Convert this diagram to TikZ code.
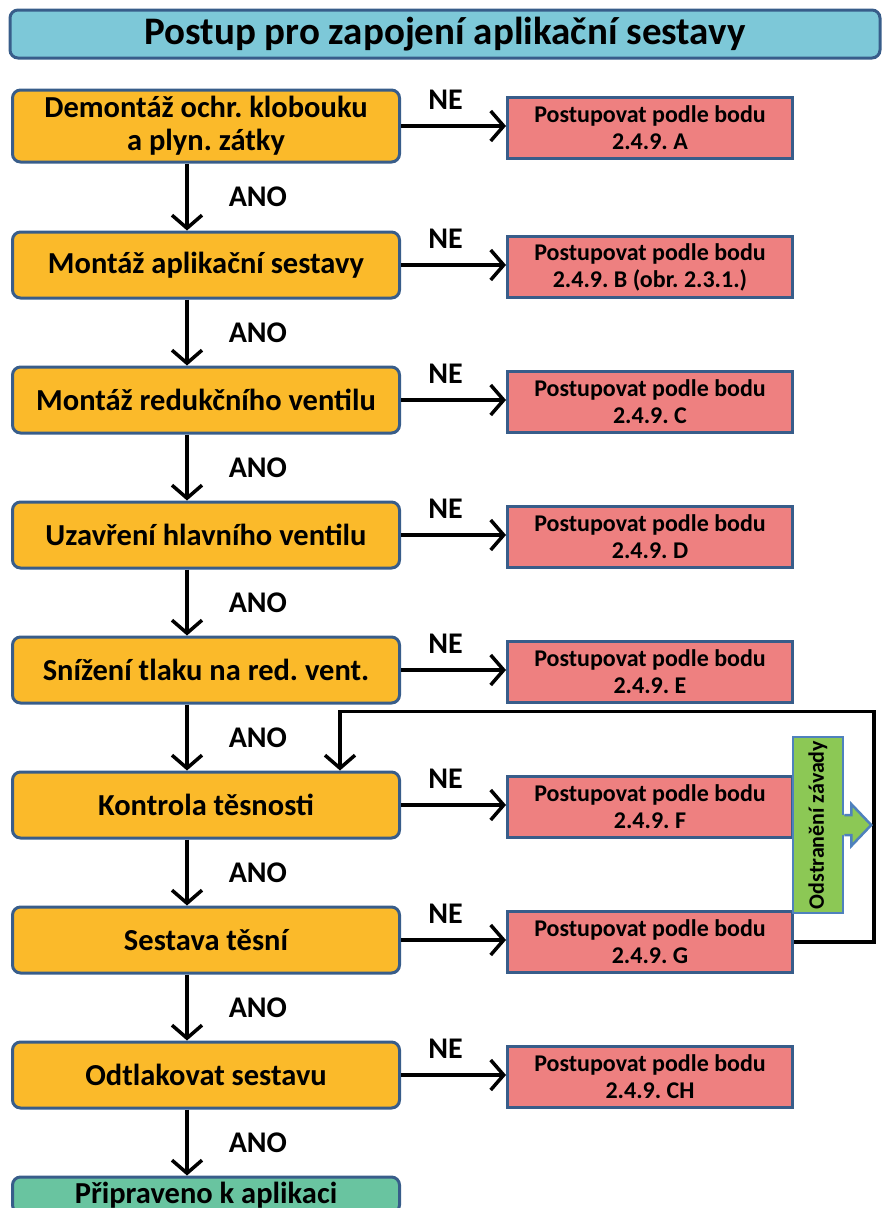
\documentclass[tikz,border=0pt]{standalone}
\usepackage{fontspec}
\setmainfont{Carlito}
\usepackage{tikz}
\usetikzlibrary{positioning,arrows.meta}
\definecolor{titleblue}{RGB}{125,200,216}
\definecolor{boxorange}{RGB}{251,186,42}
\definecolor{boxpink}{RGB}{238,128,128}
\definecolor{readygreen}{RGB}{105,196,160}
\definecolor{fixgreen}{RGB}{140,200,85}
\definecolor{frame}{RGB}{56,93,138}
\definecolor{fixframe}{RGB}{79,129,189}
\frenchspacing

\begin{document}
\begin{tikzpicture}
      [x=1pt,y=1pt,
      question/.style={rectangle, rounded corners=8pt, draw=frame, line width=3pt, fill=boxorange,
        minimum width=387pt, minimum height=66pt, inner sep=2pt, align=center,
        font=\fontsize{30.5}{33}\selectfont\bfseries},
      todo/.style={rectangle, draw=frame, line width=3pt, fill=boxpink,
        minimum width=285pt, minimum height=61pt, inner sep=2pt, align=center,
        font=\fontsize{24}{27}\selectfont\bfseries},
      heading/.style={rectangle, rounded corners=8pt, draw=frame, line width=3pt, fill=titleblue,
        minimum width=870pt, minimum height=48pt, font=\fontsize{39}{42}\selectfont\bfseries},
      ready/.style={question, fill=readygreen, minimum height=36pt, inner sep=0pt},
      fix/.style={rectangle, draw=fixframe, line width=2.5pt, fill=fixgreen, rotate=90,
        minimum width=176pt, minimum height=50pt, inner sep=0pt,
        font=\fontsize{22}{24}\selectfont\bfseries},
      arr/.style={line width=3.5pt, -{Straight Barb[length=13pt,width=30pt]}},
      lbl/.style={inner sep=0pt, font=\fontsize{30}{32}\selectfont\bfseries},
      node distance=66pt
      ]
      \useasboundingbox (0,0) rectangle (886,-1208);
      \node[heading] (title) at (445,-34) {Postup pro zapojení aplikační sestavy};
      \node[question, minimum height=72pt] (step1) at (206,-126) {Demontáž ochr. klobouku\\a plyn. zátky};
      \node[question, below=67pt of step1] (step2) {Montáž aplikační sestavy};
      \node[question, below=of step2] (step3) {Montáž redukčního ventilu};
      \node[question, below=of step3] (step4) {Uzavření hlavního ventilu};
      \node[question, below=of step4] (step5) {Snížení tlaku na red. vent.};
      \node[question, below=of step5] (step6) {Kontrola těsnosti};
      \node[question, below=of step6] (step7) {Sestava těsní};
      \node[question, below=of step7] (step8) {Odtlakovat sestavu};
      \node[ready, below=of step8] (done) {Připraveno k aplikaci};

      \foreach \i/\t in {1/A,2/B (obr. 2.3.1.),3/C,4/D,5/E,6/F,7/G,8/CH} {
        \node[todo, right=105pt of step\i, yshift=-2pt] (alt\i) {Postupovat podle bodu\\2.4.9. \t};
        \draw[arr] (step\i) -- node[lbl, above=15pt, xshift=-8pt] {NE} (step\i -| alt\i.west);
      }
      \foreach \a/\b in {step1/step2,step2/step3,step3/step4,step4/step5,step5/step6,step6/step7,step7/step8,step8/done}
        \draw[arr] ([xshift=-19pt]\a.south) -- node[lbl, right=40pt] {ANO} ([xshift=-19pt]\b.north);

      \coordinate (back) at ([xshift=134pt,yshift=59pt]step6.north);
      \draw[arr] (alt7.east) -- ++(80,0) |- (back) -- ([xshift=134pt]step6.north);

      \node[fix] (repair) at (818,-825) {Odstranění závady};
      \begin{scope}[shift={(repair.south)}]
        \fill[fixgreen] (-3,10) -- (7,10) -- (7,21) -- (27,0) -- (7,-21) -- (7,-10) -- (-3,-10) -- cycle;
        \draw[fixframe, line width=2.5pt, line join=miter] (0,10) -- (7,10) -- (7,21) -- (27,0) -- (7,-21) -- (7,-10) -- (0,-10);
      \end{scope}
\end{tikzpicture}
\end{document}
